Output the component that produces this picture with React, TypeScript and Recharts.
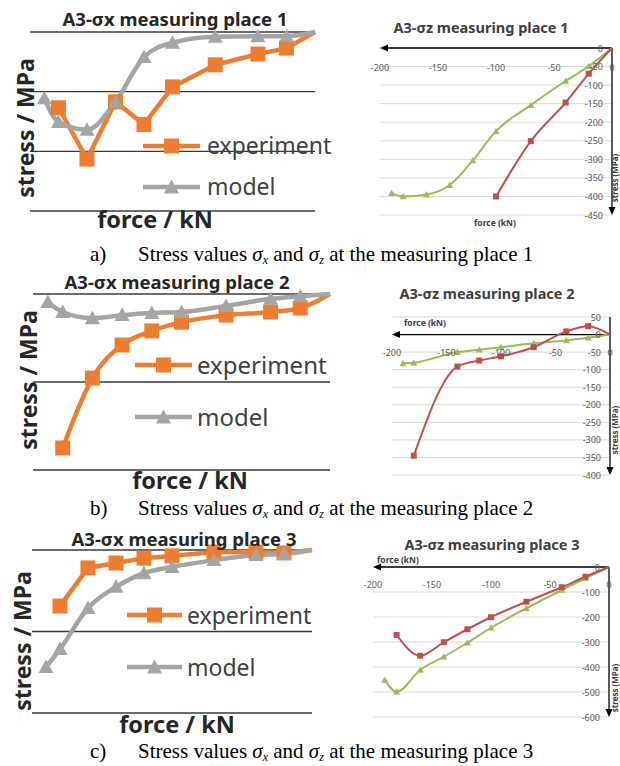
import React from 'react';
import { LineChart, Line, XAxis, YAxis, CartesianGrid, Legend, ReferenceLine } from 'recharts';

// ---------- data ----------
const force = [-190, -180, -160, -140, -120, -100, -70, -40, -20, 0];

// sigma x (left panels)
const sx1Experiment = [null, -127, -213, -117, -155, -92, -55, -37, -27, 0];
const sx1Model = [-111, -151, -164, -117, -42, -18, -8, -7, -7, 0];
const sx2Experiment = [null, -350, -191, -116, -84, -64, -48, -41, -32, 0];
const sx2Model = [-18, -41, -55, -48, -43, -41, -27, -11, -5, 0];
const sx3Experiment = [null, -172, -55, -40, -25, -18, -6, -6, -9, 0];
const sx3Model = [-359, -304, -178, -113, -71, -52, -31, -15, -12, 0];

// sigma z (right panels)
const sz1Experiment = [null, null, null, null, null, -400, -251, -147, -69, 0];
const sz1Model = [-391, -400, -395, -370, -303, -224, -154, -89, -49, 0];
const sz2Experiment = [null, -345, null, -91, -74, -62, -36, 9, 24, 0];
const sz2Model = [-82, -80, null, -50, -43, -36, -25, -17, -9, 0];
const sz3Experiment = [null, -272, -355, -301, -249, -201, -139, -81, -39, 0];
const sz3Model = [-452, -499, -412, -359, -303, -243, -165, -92, -45, 0];

const forceTicks = [-200, -150, -100, -50, 0];
const sx1Ticks = [-300, -200, -100, 0];
const sx2Ticks = [-400, -200, 0];
const sx3Ticks = [-500, -250, 0];
const sz1Ticks = [-450, -400, -350, -300, -250, -200, -150, -100, -50, 0];
const sz2Ticks = [-400, -350, -300, -250, -200, -150, -100, -50, 0, 50];
const sz3Ticks = [-600, -500, -400, -300, -200, -100, 0];

const leftTitles = ['A3-σx measuring place 1', 'A3-σx measuring place 2', 'A3-σx measuring place 3'];
const rightTitles = ['A3-σz measuring place 1', 'A3-σz measuring place 2', 'A3-σz measuring place 3'];
const seriesNames = { experiment: 'experiment', model: 'model' };
const captionLetters = ['a)', 'b)', 'c)'];
const captionPlaces = ['1', '2', '3'];

// ---------- styles ----------
const ORANGE = '#ED7D31';
const GRAY = '#A5A5A5';
const RED = '#C0504D';
const GREEN = '#9BBB59';
const FONT = '"Noto Sans", "DejaVu Sans", sans-serif';
const TEXT = '#262626';

const build = (exp: (number | null)[], model: (number | null)[]) =>
  force.map((f, i) => ({ force: f, experiment: exp[i], model: model[i] }));

const okDot = (p: any) =>
  p && p.cx != null && p.cy != null && !Number.isNaN(p.cx) && !Number.isNaN(p.cy) && p.value != null && p.payload && p.payload.force !== 0;

const squareDot = (size: number, color: string) => (p: any) => {
  if (!okDot(p)) return <g key={p.index} />;
  return <rect key={p.index} x={p.cx - size / 2} y={p.cy - size / 2} width={size} height={size} fill={color} />;
};

const triDot = (size: number, color: string) => (p: any) => {
  if (!okDot(p)) return <g key={p.index} />;
  const h = size / 2;
  return (
    <polygon
      key={p.index}
      points={`${p.cx},${p.cy - h} ${p.cx - h},${p.cy + h * 0.8} ${p.cx + h},${p.cy + h * 0.8}`}
      fill={color}
    />
  );
};

// ---------- left panels ----------
type LeftCfg = {
  box: { left: number; top: number; w: number; h: number };
  margin: { top: number; right: number; bottom: number; left: number };
  data: any[];
  yDomain: [number, number];
  yTicks: number[];
  expType: 'linear' | 'monotone';
  legend: { left: number; top: number; rowH: number; lineW: number; fontSize: number; gap: number };
};

const LegendContent = (lg: LeftCfg['legend']) => (props: any) => {
  const payload = props.payload || [];
  return (
    <div style={{ fontFamily: FONT, color: '#404040' }}>
      {payload.map((e: any) => {
        const isExp = e.dataKey === 'experiment';
        const color = isExp ? ORANGE : GRAY;
        const mid = lg.lineW / 2;
        return (
          <div key={e.dataKey} style={{ height: lg.rowH, display: 'flex', alignItems: 'center' }}>
            <svg width={lg.lineW} height={18} style={{ display: 'block' }}>
              <line x1={0} y1={9} x2={lg.lineW} y2={9} stroke={color} strokeWidth={4.5} strokeLinecap="round" />
              {isExp ? (
                <rect x={mid - 7.5} y={1.5} width={15} height={15} fill={color} />
              ) : (
                <polygon points={`${mid},1.5 ${mid - 7.5},15.5 ${mid + 7.5},15.5`} fill={color} />
              )}
            </svg>
            <span style={{ marginLeft: lg.gap, fontSize: lg.fontSize, lineHeight: 1, whiteSpace: 'nowrap' }}>
              {seriesNames[e.dataKey as 'experiment' | 'model']}
            </span>
          </div>
        );
      })}
    </div>
  );
};

function LeftPanel({ cfg }: { cfg: LeftCfg }) {
  return (
    <div style={{ position: 'absolute', left: cfg.box.left, top: cfg.box.top }}>
      <LineChart width={cfg.box.w} height={cfg.box.h} data={cfg.data} margin={cfg.margin}>
        <CartesianGrid vertical={false} stroke="#3a3a3a" strokeWidth={1.3} />
        <XAxis type="number" dataKey="force" domain={[-200, 0]} hide />
        <YAxis type="number" domain={cfg.yDomain} ticks={cfg.yTicks} hide />
        <Legend
          layout="vertical"
          align="center"
          verticalAlign="middle"
          wrapperStyle={{ left: cfg.legend.left, top: cfg.legend.top, width: 'auto', height: 'auto' }}
          content={LegendContent(cfg.legend)}
        />
        <Line
          type={cfg.expType}
          dataKey="experiment"
          name={seriesNames.experiment}
          stroke={ORANGE}
          strokeWidth={4.5}
          dot={squareDot(15, ORANGE)}
          activeDot={false}
          connectNulls
          isAnimationActive={false}
        />
        <Line
          type="monotone"
          dataKey="model"
          name={seriesNames.model}
          stroke={GRAY}
          strokeWidth={4.5}
          dot={triDot(15, GRAY)}
          activeDot={false}
          connectNulls
          isAnimationActive={false}
        />
      </LineChart>
    </div>
  );
}

// ---------- right panels ----------
type RightCfg = {
  box: { left: number; top: number; w: number; h: number };
  margin: { top: number; right: number; bottom: number; left: number };
  data: any[];
  yDomain: [number, number];
  yTicks: number[];
  xTickOffset: number;
};

const XTick = (p: any) => (
  <text x={p.x} y={p.y + p.off} textAnchor="middle" dominantBaseline="central" fill="#595959" fontSize={9} fontFamily={FONT}>
    {p.payload.value}
  </text>
);

const YTick = (p: any) => (
  <text x={p.x - 9} y={p.y} textAnchor="end" dominantBaseline="central" fill="#595959" fontSize={9} fontFamily={FONT}>
    {p.payload.value}
  </text>
);

const HArrow = (p: any) => {
  const l = Math.min(p.x1, p.x2);
  const r = Math.max(p.x1, p.x2);
  const y = p.y1;
  return (
    <g>
      <line x1={l + 4} y1={y} x2={r} y2={y} stroke="#000" strokeWidth={1.3} />
      <path d={`M${l},${y} L${l + 8},${y - 3.5} L${l + 8},${y + 3.5} Z`} fill="#000" />
    </g>
  );
};

const VArrow = (p: any) => {
  const t = Math.min(p.y1, p.y2);
  const b = Math.max(p.y1, p.y2);
  const x = p.x1;
  return (
    <g>
      <line x1={x} y1={t} x2={x} y2={b - 4} stroke="#000" strokeWidth={1.3} />
      <path d={`M${x},${b} L${x - 3.5},${b - 8} L${x + 3.5},${b - 8} Z`} fill="#000" />
    </g>
  );
};

function RightPanel({ cfg }: { cfg: RightCfg }) {
  return (
    <div style={{ position: 'absolute', left: cfg.box.left, top: cfg.box.top }}>
      <LineChart width={cfg.box.w} height={cfg.box.h} data={cfg.data} margin={cfg.margin}>
        <CartesianGrid vertical={false} stroke="#d9d9d9" strokeWidth={1} />
        <XAxis
          type="number"
          dataKey="force"
          domain={[-200, 0]}
          ticks={forceTicks}
          interval={0}
          orientation="top"
          height={1}
          axisLine={false}
          tickLine={false}
          tickSize={0}
          tickMargin={0}
          tick={(p: any) => <XTick {...p} off={cfg.xTickOffset} />}
        />
        <YAxis
          type="number"
          domain={cfg.yDomain}
          ticks={cfg.yTicks}
          interval={0}
          orientation="right"
          width={1}
          axisLine={false}
          tickLine={false}
          tickSize={0}
          tickMargin={0}
          tick={(p: any) => <YTick {...p} />}
        />
        <ReferenceLine y={0} shape={HArrow} />
        <ReferenceLine x={0} shape={VArrow} />
        <Line
          type="monotone"
          dataKey="model"
          name={seriesNames.model}
          stroke={GREEN}
          strokeWidth={2}
          dot={triDot(7, GREEN)}
          activeDot={false}
          connectNulls
          isAnimationActive={false}
        />
        <Line
          type="monotone"
          dataKey="experiment"
          name={seriesNames.experiment}
          stroke={RED}
          strokeWidth={2}
          dot={squareDot(6, RED)}
          activeDot={false}
          connectNulls
          isAnimationActive={false}
        />
      </LineChart>
    </div>
  );
}

// ---------- configs ----------
const leftCfgs: LeftCfg[] = [
  {
    box: { left: 0, top: 0, w: 340, h: 240 },
    margin: { top: 32, right: 25, bottom: 29, left: 30 },
    data: build(sx1Experiment, sx1Model),
    yDomain: [-300, 0],
    yTicks: sx1Ticks,
    expType: 'linear',
    legend: { left: 143, top: 125, rowH: 41, lineW: 57, fontSize: 23, gap: 7 },
  },
  {
    box: { left: 0, top: 260, w: 340, h: 230 },
    margin: { top: 34, right: 10, bottom: 20, left: 33 },
    data: build(sx2Experiment, sx2Model),
    yDomain: [-400, 0],
    yTicks: sx2Ticks,
    expType: 'monotone',
    legend: { left: 135, top: 79, rowH: 52, lineW: 57, fontSize: 24, gap: 5 },
  },
  {
    box: { left: 0, top: 520, w: 340, h: 220 },
    margin: { top: 30, right: 28, bottom: 27, left: 32 },
    data: build(sx3Experiment, sx3Model),
    yDomain: [-500, 0],
    yTicks: sx3Ticks,
    expType: 'linear',
    legend: { left: 127, top: 69, rowH: 52, lineW: 55, fontSize: 23, gap: 5 },
  },
];

const rightCfgs: RightCfg[] = [
  {
    box: { left: 340, top: 0, w: 280, h: 240 },
    margin: { top: 47, right: 7, bottom: 25, left: 40 },
    data: build(sz1Experiment, sz1Model),
    yDomain: [-450, 0],
    yTicks: sz1Ticks,
    xTickOffset: 19,
  },
  {
    box: { left: 340, top: 270, w: 280, h: 220 },
    margin: { top: 46, right: 9, bottom: 15, left: 52 },
    data: build(sz2Experiment, sz2Model),
    yDomain: [-400, 50],
    yTicks: sz2Ticks,
    xTickOffset: 35,
  },
  {
    box: { left: 340, top: 525, w: 280, h: 215 },
    margin: { top: 41, right: 10, bottom: 23, left: 33 },
    data: build(sz3Experiment, sz3Model),
    yDomain: [-600, 0],
    yTicks: sz3Ticks,
    xTickOffset: 17,
  },
];

const leftTitlePos = [
  [175, 19],
  [177, 282],
  [184, 539],
];
const leftYLabelPos = [
  [25, 128],
  [28, 380],
  [22, 641],
];
const leftXLabelPos = [
  [155, 220],
  [190, 481],
  [177, 725],
];
const rightTitlePos = [
  [481, 27],
  [487, 293],
  [492, 544],
];
const rightForcePos = [
  [495, 223],
  [425, 323],
  [398, 560],
];
const rightStressPos = [
  [615, 178],
  [615, 430],
  [615, 688],
];
const captionY = [254, 508, 751];

const Centered = ({ x, y, style, children, rotate }: any) => (
  <div
    style={{
      position: 'absolute',
      left: x,
      top: y,
      transform: `translate(-50%, -50%)${rotate ? ` rotate(${rotate}deg)` : ''}`,
      whiteSpace: 'nowrap',
      lineHeight: 1,
      fontFamily: FONT,
      ...style,
    }}
  >
    {children}
  </div>
);

const subStyle: React.CSSProperties = { fontSize: 12, fontStyle: 'italic', position: 'relative', top: 3 };

export default function App() {
  return (
    <div
      style={{
        position: 'absolute',
        left: 0,
        top: 0,
        width: 620,
        height: 766,
        overflow: 'hidden',
        background: '#fff',
      }}
    >
      {leftCfgs.map((c, i) => (
        <LeftPanel key={'l' + i} cfg={c} />
      ))}
      {rightCfgs.map((c, i) => (
        <RightPanel key={'r' + i} cfg={c} />
      ))}
      {leftTitles.map((t, i) => (
        <Centered key={'lt' + i} x={leftTitlePos[i][0]} y={leftTitlePos[i][1]} style={{ fontSize: 18.5, fontWeight: 700, color: TEXT }}>
          {t}
        </Centered>
      ))}
      {leftTitles.map((_, i) => (
        <Centered
          key={'ly' + i}
          x={leftYLabelPos[i][0]}
          y={leftYLabelPos[i][1]}
          rotate={-90}
          style={{ fontSize: 23, fontWeight: 700, color: TEXT }}
        >
          stress / MPa
        </Centered>
      ))}
      {leftTitles.map((_, i) => (
        <Centered key={'lx' + i} x={leftXLabelPos[i][0]} y={leftXLabelPos[i][1]} style={{ fontSize: 23.5, fontWeight: 700, color: TEXT }}>
          force / kN
        </Centered>
      ))}
      {rightTitles.map((t, i) => (
        <Centered key={'rt' + i} x={rightTitlePos[i][0]} y={rightTitlePos[i][1]} style={{ fontSize: 14.5, fontWeight: 700, color: '#404040' }}>
          {t}
        </Centered>
      ))}
      {rightTitles.map((_, i) => (
        <Centered key={'rf' + i} x={rightForcePos[i][0]} y={rightForcePos[i][1]} style={{ fontSize: 8.5, fontWeight: 700, color: '#404040' }}>
          force (kN)
        </Centered>
      ))}
      {rightTitles.map((_, i) => (
        <Centered
          key={'rs' + i}
          x={rightStressPos[i][0]}
          y={rightStressPos[i][1]}
          rotate={-90}
          style={{ fontSize: 8, fontWeight: 700, color: '#404040' }}
        >
          stress (MPa)
        </Centered>
      ))}
      {captionLetters.map((l, i) => (
        <div
          key={'cap' + i}
          style={{
            position: 'absolute',
            left: 90,
            top: captionY[i] - 11,
            height: 22,
            lineHeight: '22px',
            fontFamily: '"Liberation Serif", "Times New Roman", serif',
            fontSize: 21,
            color: '#000',
            whiteSpace: 'nowrap',
          }}
        >
          <span style={{ display: 'inline-block', width: 48 }}>{l}</span>
          <span>
            Stress values <i>σ</i>
            <span style={subStyle}>x</span> and <i>σ</i>
            <span style={subStyle}>z</span> at the measuring place {captionPlaces[i]}
          </span>
        </div>
      ))}
    </div>
  );
}
